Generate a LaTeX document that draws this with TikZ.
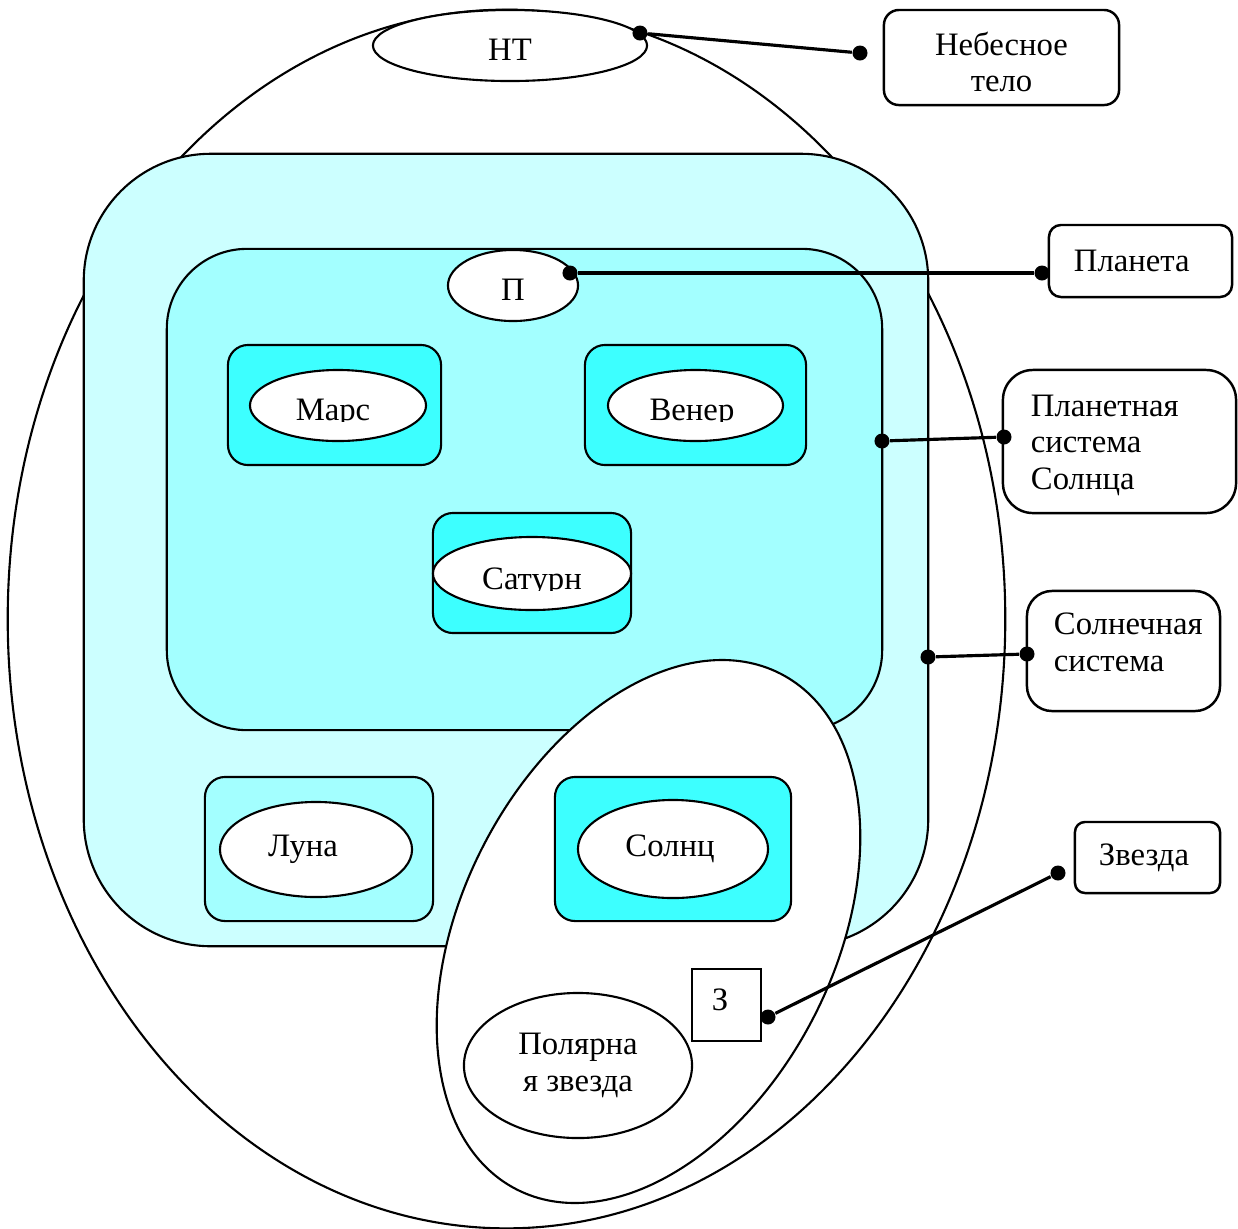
\documentclass[tikz,border=0pt]{standalone}
\usepackage{fontspec}
\setmainfont{Liberation Serif}
\usetikzlibrary{shapes.geometric}
\definecolor{cyan1}{HTML}{CCFFFF}
\definecolor{cyan2}{HTML}{A3FFFF}
\definecolor{cyan3}{HTML}{3DFFFF}

\begin{document}
\begin{tikzpicture}[
    x=0.01cm, y=-0.01cm,
    every node/.style={font=\fontsize{9.3}{10.3}\selectfont},
    oval/.style={ellipse, draw, fill=white, line width=0.6pt, inner sep=0pt, outer sep=0pt},
    zone/.style={rectangle, draw, line width=0.6pt, inner sep=0pt, outer sep=0pt},
    cell/.style={rectangle, draw, line width=0.6pt, rounded corners=0.2cm,
                 inner sep=0pt, outer sep=0pt},
    tagbox/.style={rectangle, draw, fill=white, line width=0.7pt, align=left,
                   inner xsep=0.25cm, inner ysep=0pt},
    dot/.style={circle, fill=black, inner sep=0pt, minimum size=0.15cm},
    link/.style={line width=0.9pt},
]
\useasboundingbox (0,0) rectangle (1238,1229);

% ================================================================ sky and the systems
\node[oval, minimum width=9.97cm, minimum height=12.18cm] (sky) at (506.5,619) {};
\node[oval, minimum width=2.74cm, minimum height=0.71cm,
      text height=0.30cm, text depth=0pt] (body) at (510,45.5) {НТ};

\node[zone, fill=cyan1, rounded corners=1.27cm,
      minimum width=8.44cm, minimum height=7.92cm] (solsys) at (506,550) {};
\node[zone, fill=cyan2, rounded corners=0.8cm,
      minimum width=7.15cm, minimum height=4.81cm] (plsys) at (524.5,489.5) {};

% ================================================================ planets
\node[oval, minimum width=1.30cm, minimum height=0.71cm,
      text height=0.30cm, text depth=0pt] (planet) at (513,285.5) {П};

\node[cell, fill=cyan3, minimum width=2.13cm, minimum height=1.20cm] (marsbox) at (334.5,405) {};
\node[oval, minimum width=1.76cm, minimum height=0.71cm] (mars) at (338,405.5) {};
\begin{scope}
    \clip (250,370) rectangle (426,421);
    \node[anchor=base] (marsname) at (333,420) {Марс};
\end{scope}

\node[cell, fill=cyan3, minimum width=2.21cm, minimum height=1.20cm] (venusbox) at (695.5,405) {};
\node[oval, minimum width=1.75cm, minimum height=0.71cm] (venus) at (695.5,405.5) {};
\begin{scope}
    \clip (608,370) rectangle (783,421);
    \node[anchor=base] (venusname) at (692,420) {Венер};
\end{scope}

\node[cell, fill=cyan3, minimum width=1.98cm, minimum height=1.20cm] (saturnbox) at (532,573) {};
\node[oval, minimum width=1.98cm, minimum height=0.73cm] (saturn) at (532,573.5) {};
\begin{scope}
    \clip (433,537) rectangle (631,590);
    \node[anchor=base] (saturnname) at (532,589) {Сатурн};
\end{scope}

\node[cell, fill=cyan2, minimum width=2.28cm, minimum height=1.44cm] (moonbox) at (319,849) {};
\node[oval, minimum width=1.92cm, minimum height=0.95cm] (moon) at (316,849.5) {};
\node (moonname) at (303,849.5) {Луна};

% ================================================================ stars
\node[oval, minimum width=5.79cm, minimum height=3.72cm, rotate=62.9] (stars) at (648.5,931.5) {};

\node[cell, fill=cyan3, minimum width=2.36cm, minimum height=1.44cm] (sunbox) at (673,849) {};
\node[oval, minimum width=1.90cm, minimum height=0.98cm] (sun) at (673,849) {};
\node (sunname) at (670,849) {Солнц};

\node[oval, minimum width=2.28cm, minimum height=1.45cm, align=center] (polaris) at (578,1065.5)
    {Полярна\\я звезда};
\node[zone, fill=white, minimum width=0.69cm, minimum height=0.72cm] (star) at (726.5,1005) {};
\node (starname) at (720,1000) {З};

% ================================================================ labels
\node[tagbox, align=center, text width=1.85cm, minimum height=0.95cm,
      rounded corners=0.15cm, text depth=0.28cm] (bodylab) at (1001.5,57.5) {Небесное\\тело};
\node[tagbox, text width=1.33cm, minimum height=0.72cm,
      rounded corners=0.12cm] (planetlab) at (1140.5,261) {Планета};
\node[tagbox, inner xsep=0.28cm, text width=1.77cm, minimum height=1.43cm,
      rounded corners=0.3cm, text depth=0.71cm] (plsyslab) at (1119.5,441.5) {Планетная\\система\\Солнца};
\node[tagbox, inner xsep=0.27cm, text width=1.39cm, minimum height=1.20cm,
      rounded corners=0.25cm, text depth=0.54cm] (solsyslab) at (1123.5,651) {Солнечная\\система};
\node[tagbox, inner xsep=0.24cm, text width=0.97cm, minimum height=0.71cm,
      rounded corners=0.1cm] (starlab) at (1147.5,857.5) {Звезда};

% pins on the shapes and on the labels
\foreach \i/\ax/\ay/\bx/\by in {1/640/33/860/53, 2/570/273/1042/273, 3/882/441/1004/437,
                               4/928/657/1027/654, 5/768/1017/1058/873}{
    \node[dot] (pin\i) at (\ax,\ay) {};
    \node[dot] (tip\i) at (\bx,\by) {};
    \draw[link] (pin\i) -- (tip\i);
}

\end{tikzpicture}
\end{document}
